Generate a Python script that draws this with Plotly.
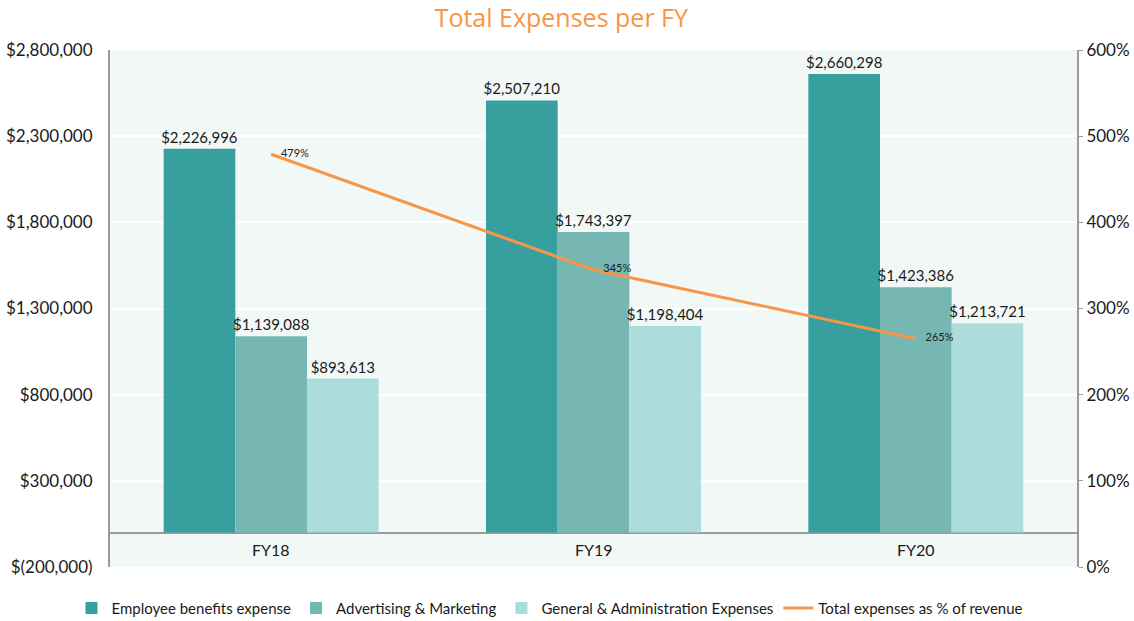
import plotly.graph_objects as go

categories = ["FY18", "FY19", "FY20"]
employee = [2226996, 2507210, 2660298]
advertising = [1139088, 1743397, 1423386]
general_admin = [893613, 1198404, 1213721]
pct_revenue = [479, 345, 265]

left_tickvals = [-200000, 300000, 800000, 1300000, 1800000, 2300000, 2800000]
left_ticktext = ["$(200,000)", "$300,000", "$800,000", "$1,300,000", "$1,800,000", "$2,300,000", "$2,800,000"]
right_tickvals = [0, 100, 200, 300, 400, 500, 600]
right_ticktext = ["0%", "100%", "200%", "300%", "400%", "500%", "600%"]

C_EMP = "#37A09F"
C_ADV = "#76B7B4"
C_GA = "#ACDCDB"
C_LINE = "#F79646"
FONT = "Lato"

def money(v):
    return "${:,}".format(v)

fig = go.Figure()
for name, vals, col in [("Employee benefits expense", employee, C_EMP),
                        ("Advertising & Marketing", advertising, C_ADV),
                        ("General & Administration Expenses", general_admin, C_GA)]:
    fig.add_trace(go.Bar(
        x=categories, y=vals, name=name, marker=dict(color=col, line=dict(width=0)),
        text=[money(v) for v in vals], textposition="outside", cliponaxis=False,
        constraintext="none", textangle=0,
        textfont=dict(family=FONT, size=15, color="#1a1a1a"), yaxis="y",
    ))

fig.add_trace(go.Scatter(
    x=categories, y=pct_revenue, name="Total expenses as % of revenue", yaxis="y2",
    mode="lines+markers+text", line=dict(color=C_LINE, width=3),
    marker=dict(size=14, color="rgba(0,0,0,0)", line=dict(width=0)),
    text=[f"{v}%" for v in pct_revenue], textposition="middle right",
    textfont=dict(family=FONT, size=11, color="#1a1a1a"),
))

for c in categories:
    fig.add_annotation(x=c, y=-100000, xref="x", yref="y", text=c, showarrow=False,
                       font=dict(family=FONT, size=16, color="#1a1a1a"))

fig.update_layout(
    width=1134, height=621,
    margin=dict(l=110, r=57, t=50, b=54, autoexpand=False),
    paper_bgcolor="white", plot_bgcolor="#F2F8F6",
    barmode="group", bargap=0.333, bargroupgap=0,
    font=dict(family=FONT, color="#1a1a1a"),
    title=dict(text="Total Expenses per FY", x=0.495, xref="container", xanchor="center",
               y=1 - 18 / 621, yref="container", yanchor="middle",
               font=dict(family="Open Sans", size=25, color=C_LINE)),
    xaxis=dict(showticklabels=False, showgrid=False, zeroline=False, showline=False, ticks="",
               automargin=False),
    yaxis=dict(range=[-200000, 2800000], tickvals=left_tickvals, ticktext=left_ticktext,
               showgrid=True, gridcolor="white", gridwidth=1.5,
               zeroline=True, zerolinecolor="#9A9A9A", zerolinewidth=2,
               showline=True, linecolor="#9A9A9A", linewidth=2, ticks="",
               tickfont=dict(family=FONT, size=17, color="#1a1a1a"), ticklabelstandoff=12,
               automargin=False),
    yaxis2=dict(range=[0, 600], tickvals=right_tickvals, ticktext=right_ticktext,
                overlaying="y", side="right", showgrid=False, zeroline=False,
                showline=True, linecolor="#9A9A9A", linewidth=2,
                ticks="outside", ticklen=4, tickcolor="#9A9A9A",
                tickfont=dict(family=FONT, size=17, color="#1a1a1a"), automargin=False),
    legend=dict(orientation="h", x=0.455, xanchor="center", y=-0.08, yanchor="middle",
                font=dict(family=FONT, size=15, color="#1a1a1a"), bgcolor="rgba(0,0,0,0)",
                itemwidth=30),
    showlegend=True,
)

fig.write_html("out.html", config={"displayModeBar": False},
               post_script="document.body.style.margin='0';")
